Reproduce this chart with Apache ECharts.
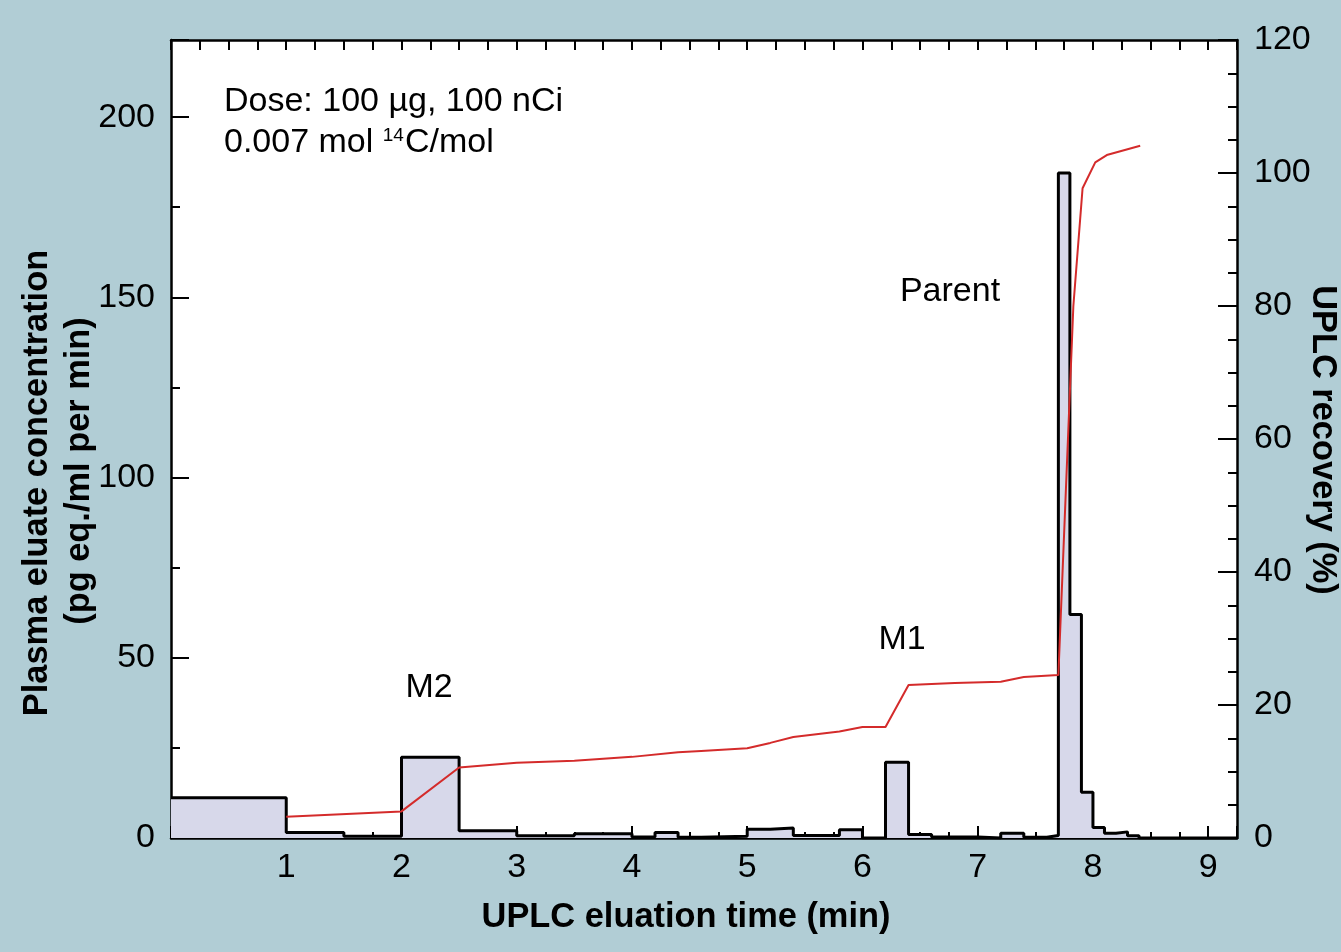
<!DOCTYPE html>
<html>
<head>
<meta charset="utf-8">
<script src="https://cdn.jsdelivr.net/npm/echarts@6/dist/echarts.min.js"></script>
<style>
html,body{margin:0;padding:0;background:#b1cdd5;}
#chart{width:1341px;height:952px;}
</style>
</head>
<body>
<div id="chart"></div>
<script>
// Histogram bins: start time (min) and plasma eluate concentration (pg eq./ml per min)
var binStart = [0, 1.0, 1.5, 2.0, 2.5, 3.0, 3.5, 4.0, 4.2, 4.4, 4.6, 5.0, 5.2, 5.4, 5.8, 6.0, 6.2, 6.4, 6.6, 7.0, 7.2, 7.4, 7.6, 7.7, 7.8, 7.9, 8.0, 8.1, 8.2, 8.3, 8.4];
var binValue = [11.2, 1.5, 0.5, 22.4, 2.0, 0.6, 1.2, 0.3, 1.5, 0.2, 0.5, 2.4, 2.8, 0.7, 2.3, 0, 21.0, 1.0, 0.3, 0, 1.3, 0.2, 0.7, 184.5, 62.0, 12.7, 2.9, 1.3, 1.7, 0.6, 0];
var lastBinEnd = 9.25;

// Cumulative UPLC recovery (%)
var recoveryTime = [1.0, 2.0, 2.5, 3.0, 3.5, 4.0, 4.4, 4.6, 5.0, 5.2, 5.4, 5.8, 6.0, 6.2, 6.4, 6.8, 7.2, 7.4, 7.7, 7.83, 7.91, 8.02, 8.12, 8.41];
var recoveryPct  = [3.2, 4.0, 10.6, 11.3, 11.6, 12.2, 12.9, 13.1, 13.5, 14.3, 15.2, 16.0, 16.7, 16.7, 23.0, 23.3, 23.5, 24.2, 24.5, 80.0, 97.7, 101.6, 102.7, 104.1];

var xTickLabels = [1, 2, 3, 4, 5, 6, 7, 8, 9];
var leftTickLabels = [0, 50, 100, 150, 200];
var rightTickLabels = [0, 20, 40, 60, 80, 100, 120];

var FONT = '"Liberation Sans", Arial, Helvetica, sans-serif';

var stepData = binStart.map(function (s, i) { return [s, binValue[i]]; });
stepData.push([lastBinEnd, binValue[binValue.length - 1]]);
var lineData = recoveryTime.map(function (t, i) { return [t, recoveryPct[i]]; });

var chart = echarts.init(document.getElementById('chart'));
var axisLine = { show: true, onZero: false, lineStyle: { color: '#000', width: 2.5 } };
var tickStyle = { color: '#000', width: 2 };

chart.setOption({
  backgroundColor: '#b1cdd5',
  animation: false,
  grid: { left: 171, right: 104, top: 40, bottom: 114, show: true, backgroundColor: '#ffffff', borderWidth: 0 },
  xAxis: [
    {
      type: 'value', min: 0, max: 9.25, interval: 1, position: 'bottom',
      axisLine: axisLine,
      axisTick: { show: true, inside: true, length: 12, lineStyle: tickStyle },
      axisLabel: {
        show: true, color: '#000', fontSize: 34, fontFamily: FONT, margin: 13,
        formatter: function (v) { return xTickLabels.indexOf(v) >= 0 ? String(v) : ''; }
      },
      splitLine: { show: false }
    },
    {
      type: 'value', min: 0, max: 9.25, interval: 0.25, position: 'top',
      axisLine: axisLine,
      axisTick: { show: true, inside: true, length: 10, lineStyle: tickStyle },
      axisLabel: { show: false }, splitLine: { show: false }
    },
    {
      type: 'value', min: 0, max: 9.25, interval: 0.25, position: 'bottom',
      axisLine: { show: false },
      axisTick: { show: true, inside: true, length: 6, lineStyle: tickStyle },
      axisLabel: { show: false }, splitLine: { show: false }
    }
  ],
  yAxis: [
    {
      type: 'value', min: 0, max: 221.4, interval: 50, position: 'left',
      axisLine: axisLine,
      axisTick: { show: true, inside: true, length: 18, lineStyle: tickStyle },
      axisLabel: {
        show: true, color: '#000', fontSize: 34, fontFamily: FONT, margin: 16,
        formatter: function (v) { return leftTickLabels.indexOf(v) >= 0 ? String(v) : ''; }
      },
      splitLine: { show: false }
    },
    {
      type: 'value', min: 0, max: 120, interval: 20, position: 'right',
      axisLine: axisLine,
      axisTick: { show: true, inside: true, length: 19, lineStyle: tickStyle },
      minorTick: { show: true, splitNumber: 4, length: 9, lineStyle: tickStyle },
      axisLabel: {
        show: true, color: '#000', fontSize: 34, fontFamily: FONT, margin: 17,
        formatter: function (v) { return rightTickLabels.indexOf(v) >= 0 ? String(v) : ''; }
      },
      splitLine: { show: false }, minorSplitLine: { show: false }
    },
    {
      type: 'value', min: 0, max: 221.4, interval: 25, position: 'left',
      axisLine: { show: false },
      axisTick: { show: true, inside: true, length: 9, lineStyle: tickStyle },
      axisLabel: { show: false }, splitLine: { show: false }
    }
  ],
  series: [
    {
      name: 'Plasma eluate concentration', type: 'line', xAxisIndex: 0, yAxisIndex: 0,
      step: 'end', data: stepData, symbol: 'none', z: 2,
      lineStyle: { color: '#000', width: 3 },
      areaStyle: { color: '#d7d8ea', opacity: 1 }
    },
    {
      name: 'UPLC recovery', type: 'line', xAxisIndex: 0, yAxisIndex: 1,
      data: lineData, symbol: 'none', z: 3,
      lineStyle: { color: '#d42b2b', width: 2 }
    }
  ],
  graphic: [
    { type: 'text', x: 224, y: 102, z: 10, style: { text: 'Dose: 100 µg, 100 nCi', font: '34px ' + FONT, fill: '#000', align: 'left', verticalAlign: 'middle' } },
    { type: 'text', x: 224, y: 143, z: 10, style: {
        text: '0.007 mol {sup|14}C/mol', font: '34px ' + FONT, fill: '#000', align: 'left', verticalAlign: 'middle',
        rich: { sup: { fontSize: 19, fontFamily: FONT, verticalAlign: 'top', padding: [0, 1, 0, 0] } }
    } },
    { type: 'text', x: 429, y: 688, z: 10, style: { text: 'M2', font: '34px ' + FONT, fill: '#000', align: 'center', verticalAlign: 'middle' } },
    { type: 'text', x: 902, y: 640, z: 10, style: { text: 'M1', font: '34px ' + FONT, fill: '#000', align: 'center', verticalAlign: 'middle' } },
    { type: 'text', x: 950, y: 292, z: 10, style: { text: 'Parent', font: '34px ' + FONT, fill: '#000', align: 'center', verticalAlign: 'middle' } },
    { type: 'text', x: 686, y: 918, z: 10, style: { text: 'UPLC eluation time (min)', font: 'bold 34.4px ' + FONT, fill: '#000', align: 'center', verticalAlign: 'middle' } },
    { type: 'text', x: 38, y: 483, rotation: Math.PI / 2, z: 10, style: { text: 'Plasma eluate concentration', font: 'bold 34.4px ' + FONT, fill: '#000', align: 'center', verticalAlign: 'middle' } },
    { type: 'text', x: 80, y: 471, rotation: Math.PI / 2, z: 10, style: { text: '(pg eq./ml per min)', font: 'bold 34.4px ' + FONT, fill: '#000', align: 'center', verticalAlign: 'middle' } },
    { type: 'text', x: 1322, y: 440, rotation: -Math.PI / 2, z: 10, style: { text: 'UPLC recovery (%)', font: 'bold 34.4px ' + FONT, fill: '#000', align: 'center', verticalAlign: 'middle' } }
  ]
});
</script>
</body>
</html>
